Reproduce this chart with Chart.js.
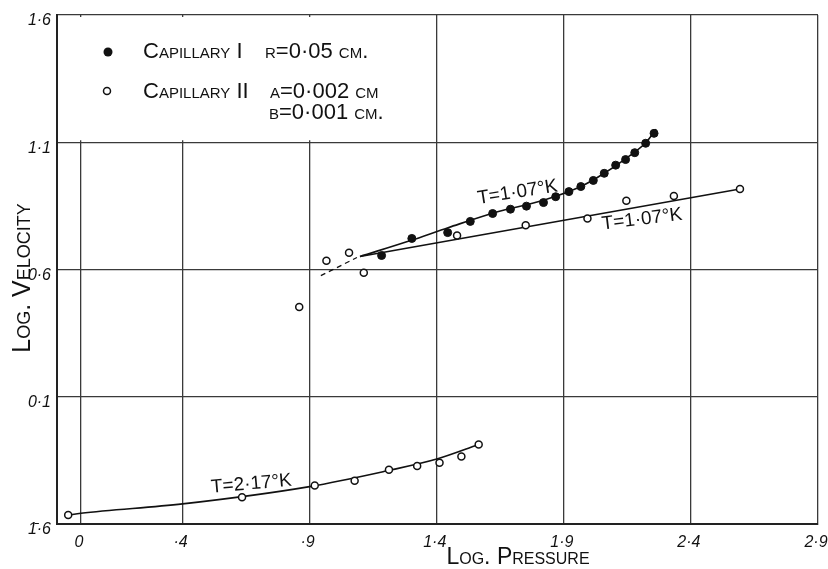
<!DOCTYPE html>
<html>
<head>
<meta charset="utf-8">
<script src="https://cdn.jsdelivr.net/npm/chart.js@4.4.1/dist/chart.umd.min.js"></script>
<style>
  html, body { margin: 0; padding: 0; background: #fff; }
  #wrap { width: 828px; height: 569px; }
</style>
</head>
<body>
<div id="wrap"><canvas id="velocityChart" width="828" height="569"></canvas></div>
<script>
// tick positions and their printed labels (log scale notation, 1̄·6 = -0.4)
var xTickValues = [0, 0.4, 0.9, 1.4, 1.9, 2.4, 2.9];
var xTickLabels = ['0', '·4', '·9', '1·4', '1·9', '2·4', '2·9'];
var yTickValues = [-0.4, 0.1, 0.6, 1.1, 1.6];
var yTickLabels = ['1̄·6', '0·1', '0·6', '1·1', '1·6'];

// Capillary I (filled points), T = 1.07 K
var cap1X = [1.183, 1.302, 1.443, 1.532, 1.620, 1.690, 1.753, 1.820, 1.868, 1.920, 1.967, 2.016, 2.059, 2.104, 2.143, 2.179, 2.222, 2.255];
var cap1Y = [0.655, 0.722, 0.745, 0.789, 0.820, 0.837, 0.849, 0.863, 0.886, 0.906, 0.926, 0.950, 0.978, 1.010, 1.032, 1.059, 1.096, 1.135];

// Capillary II (open points), T = 1.07 K
var cap2X = [0.859, 0.966, 1.055, 1.113, 1.480, 1.750, 1.993, 2.146, 2.333, 2.593];
var cap2Y = [0.453, 0.634, 0.666, 0.587, 0.734, 0.774, 0.800, 0.870, 0.889, 0.916];

// Capillary II (open points), T = 2.17 K
var hotX = [-0.050, 0.634, 0.920, 1.077, 1.212, 1.323, 1.411, 1.497, 1.565];
var hotY = [-0.365, -0.295, -0.249, -0.230, -0.187, -0.172, -0.159, -0.135, -0.088];

// drawn curves
var curve1X = [1.098, 1.300, 1.447, 1.643, 1.820, 1.969, 2.059, 2.145, 2.224, 2.263];
var curve1Y = [0.651, 0.715, 0.765, 0.828, 0.872, 0.927, 0.978, 1.037, 1.100, 1.151];
var curve2X = [1.098, 2.593];
var curve2Y = [0.651, 0.916];
var dashX = [0.944, 1.086];
var dashY = [0.576, 0.647];
var curveHotX = [-0.050, 0, 0.4, 0.9, 1.2, 1.4, 1.565];
var curveHotY = [-0.365, -0.358, -0.321, -0.253, -0.192, -0.145, -0.088];

function pts(xs, ys) {
    return xs.map(function (x, i) { return { x: x, y: ys[i] }; });
}

var ink = '#111';
var hand = "'Liberation Sans', 'DejaVu Sans', sans-serif";

// legend, curve labels and axis titles drawn on the canvas
var sketchText = {
    id: 'sketchText',
    beforeDatasetsDraw: function (chart) {
        var ctx = chart.ctx, a = chart.chartArea;
        var xs = chart.scales.x, ys = chart.scales.y;
        // blank legend panel (no grid inside it)
        ctx.save();
        ctx.fillStyle = '#fff';
        var y11 = ys.getPixelForValue(1.1);
        ctx.fillRect(a.left + 2, a.top + 2, xs.getPixelForValue(1.15) - a.left - 2, y11 - a.top - 4);
        ctx.restore();
    },
    afterDatasetsDraw: function (chart) {
        var ctx = chart.ctx, a = chart.chartArea;
        var xs = chart.scales.x, ys = chart.scales.y;
        ctx.save();
        ctx.fillStyle = ink;
        ctx.strokeStyle = ink;

        // legend
        ctx.beginPath();
        ctx.arc(a.left + 51, a.top + 37, 4.5, 0, Math.PI * 2);
        ctx.fill();
        ctx.beginPath();
        ctx.lineWidth = 1.5;
        ctx.arc(a.left + 50, a.top + 76, 3.5, 0, Math.PI * 2);
        ctx.stroke();

        ctx.font = '22px ' + hand;
        ctx.font = 'small-caps 22px ' + hand;
        ctx.textBaseline = 'middle';
        ctx.textAlign = 'left';
        ctx.fillText('Capillary I', a.left + 86, a.top + 37);
        ctx.fillText('r=0·05 cm.', a.left + 208, a.top + 37);
        ctx.fillText('Capillary II', a.left + 86, a.top + 77);
        ctx.fillText('a=0·002 cm', a.left + 213, a.top + 77);
        ctx.fillText('b=0·001 cm.', a.left + 212, a.top + 98);

        // curve labels
        function label(text, x, y, deg) {
            ctx.save();
            ctx.translate(xs.getPixelForValue(x), ys.getPixelForValue(y));
            ctx.rotate(deg * Math.PI / 180);
            ctx.font = '19px ' + hand;
            ctx.textAlign = 'center';
            ctx.textBaseline = 'middle';
            ctx.fillText(text, 0, 0);
            ctx.restore();
        }
        label('T=1·07°K', 1.718, 0.903, -9);
        label('T=1·07°K', 2.208, 0.797, -7);
        label('T=2·17°K', 0.671, -0.243, -5);

        // axis titles
        ctx.font = '23px ' + hand;
        ctx.font = 'small-caps 23px ' + hand;
        ctx.textAlign = 'center';
        ctx.textBaseline = 'middle';
        ctx.fillText('Log. Pressure', 518, a.bottom + 34);
        ctx.font = '25px ' + hand;
        ctx.font = 'small-caps 25px ' + hand;
        ctx.save();
        ctx.translate(23, 278);
        ctx.rotate(-Math.PI / 2);
        ctx.fillText('Log. Velocity', 0, 0);
        ctx.restore();
        ctx.restore();
    }
};

var lineStyle = {
    type: 'line',
    showLine: true,
    borderColor: ink,
    borderWidth: 1.6,
    pointRadius: 0,
    fill: false,
    cubicInterpolationMode: 'monotone'
};

var data = {
    datasets: [
        { type: 'scatter', label: 'Capillary I', data: pts(cap1X, cap1Y),
          pointRadius: 4, pointBackgroundColor: ink, pointBorderColor: ink, pointBorderWidth: 1 },
        { type: 'scatter', label: 'Capillary II', data: pts(cap2X, cap2Y),
          pointRadius: 3.5, pointBackgroundColor: '#fff', pointBorderColor: ink, pointBorderWidth: 1.5 },
        { type: 'scatter', label: 'Capillary II 2.17K', data: pts(hotX, hotY),
          pointRadius: 3.5, pointBackgroundColor: '#fff', pointBorderColor: ink, pointBorderWidth: 1.5 },
        Object.assign({}, lineStyle, { label: 'curve I', data: pts(curve1X, curve1Y) }),
        Object.assign({}, lineStyle, { label: 'curve II', data: pts(curve2X, curve2Y) }),
        Object.assign({}, lineStyle, { label: 'dash', data: pts(dashX, dashY), borderDash: [5, 4], borderWidth: 1.3 }),
        Object.assign({}, lineStyle, { label: 'curve 2.17K', data: pts(curveHotX, curveHotY) })
    ]
};

var options = {
    responsive: false,
    animation: false,
    events: [],
    layout: { autoPadding: false, padding: { top: 15, right: 10, left: 0, bottom: 0 } },
    plugins: { legend: { display: false }, tooltip: { enabled: false } },
    scales: {
        x: {
            type: 'linear',
            min: -0.094,
            max: 2.9,
            afterBuildTicks: function (scale) {
                scale.ticks = xTickValues.map(function (v) { return { value: v }; });
            },
            afterFit: function (scale) {
                scale.height = 45;
                scale.paddingLeft = 0;
                scale.paddingRight = 0;
            },
            grid: { color: '#3a3a3a', lineWidth: 1.3, drawTicks: false },
            border: { color: '#222', width: 2 },
            ticks: {
                padding: 9,
                labelOffset: -2,
                maxRotation: 0,
                autoSkip: false,
                color: ink,
                font: { family: hand, size: 16, style: 'italic' },
                callback: function (v) {
                    var i = xTickValues.indexOf(v);
                    return i >= 0 ? xTickLabels[i] : '';
                }
            }
        },
        y: {
            type: 'linear',
            min: -0.4,
            max: 1.6,
            afterBuildTicks: function (scale) {
                scale.ticks = yTickValues.map(function (v) { return { value: v }; });
            },
            afterFit: function (scale) {
                scale.width = 57;
                scale.paddingTop = 0;
                scale.paddingBottom = 0;
            },
            grid: { color: '#3a3a3a', lineWidth: 1.3, drawTicks: false },
            border: { color: '#222', width: 2 },
            ticks: {
                padding: 6,
                labelOffset: 6,
                autoSkip: false,
                color: ink,
                font: { family: hand, size: 16, style: 'italic' },
                callback: function (v) {
                    var i = yTickValues.indexOf(v);
                    return i >= 0 ? yTickLabels[i] : '';
                }
            }
        }
    }
};

var ctx = document.getElementById('velocityChart').getContext('2d');
var velocityChart = new Chart(ctx, {
    type: 'scatter',
    data: data,
    options: options,
    plugins: [sketchText]
});
</script>
</body>
</html>
